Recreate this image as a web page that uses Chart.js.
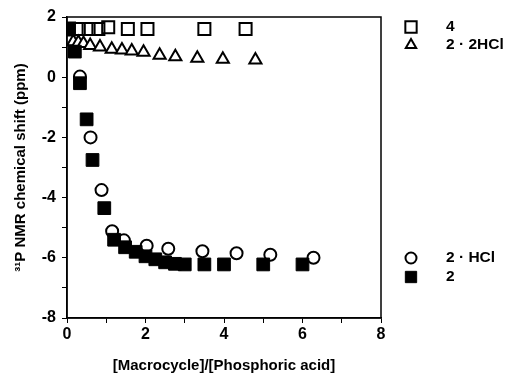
<!DOCTYPE html>
<html><head><meta charset="utf-8">
<script src="https://cdn.jsdelivr.net/npm/chart.js@4/dist/chart.umd.min.js"></script>
<style>html,body{margin:0;padding:0;background:#fff}#wrap{width:519px;height:379px}</style>
</head><body><div id="wrap"><canvas id="c" width="519" height="379"></canvas></div>
<script>
// Series "4" (open squares)
const sq4X = [0.05, 0.3, 0.55, 0.8, 1.05, 1.55, 2.05, 3.5, 4.55];
const sq4Y = [1.62, 1.6, 1.6, 1.6, 1.66, 1.6, 1.6, 1.6, 1.6];
// Series "2 · 2HCl" (open triangles)
const triX = [0.03, 0.16, 0.29, 0.42, 0.59, 0.84, 1.14, 1.40, 1.65, 1.95, 2.36, 2.76, 3.32, 3.97, 4.80];
const triY = [1.5, 1.18, 1.15, 1.12, 1.05, 1.0, 0.93, 0.9, 0.87, 0.83, 0.73, 0.68, 0.63, 0.6, 0.57];
// Series "2 · HCl" (open circles)
const cirX = [0.33, 0.6, 0.88, 1.15, 1.45, 2.03, 2.58, 3.45, 4.32, 5.18, 6.28];
const cirY = [0.02, -2.0, -3.75, -5.12, -5.42, -5.6, -5.7, -5.78, -5.85, -5.9, -6.0];
// Series "2" (filled squares)
const sq2X = [0.03, 0.2, 0.33, 0.5, 0.65, 0.95, 1.2, 1.48, 1.75, 2.0, 2.25, 2.5, 2.75, 3.0, 3.5, 4.0, 5.0, 6.0];
const sq2Y = [1.6, 0.85, -0.2, -1.4, -2.75, -4.35, -5.4, -5.65, -5.8, -5.95, -6.05, -6.15, -6.2, -6.22, -6.22, -6.22, -6.22, -6.22];
// Axis ticks
const xTickLabels = [0, 2, 4, 6, 8];
const yTickLabels = [2, 0, -2, -4, -6, -8];
const seriesNames = ['4', '2 · 2HCl', '2 · HCl', '2'];

const pts = (xs, ys) => xs.map((x, i) => ({x: x, y: ys[i]}));
const FONT = '"Liberation Sans", Arial, sans-serif';

const datasets = [
  {label: seriesNames[3], data: pts(sq2X, sq2Y), pointStyle: 'rect', pointRadius: 9, backgroundColor: '#000', borderColor: '#000', borderWidth: 1},
  {label: seriesNames[2], data: pts(cirX, cirY), pointStyle: 'circle', pointRadius: 6, backgroundColor: '#fff', borderColor: '#000', borderWidth: 2},
  {label: seriesNames[1], data: pts(triX, triY), pointStyle: 'triangle', pointRadius: 7, backgroundColor: '#fff', borderColor: '#000', borderWidth: 2},
  {label: seriesNames[0], data: pts(sq4X, sq4Y), pointStyle: 'rect', pointRadius: 8.5, backgroundColor: 'rgba(255,255,255,0)', borderColor: '#000', borderWidth: 2}
];

const framePlugin = {
  id: 'frame',
  afterDraw(chart) {
    const a = chart.chartArea, ctx = chart.ctx;
    ctx.save();
    ctx.strokeStyle = '#000'; ctx.lineWidth = 1.5;
    ctx.strokeRect(a.left, a.top, a.right - a.left, a.bottom - a.top);
    // legend
    const items = [
      {ds: 3, y: 27}, {ds: 2, y: 45}, {ds: 1, y: 258}, {ds: 0, y: 277}
    ];
    ctx.font = 'bold 15.5px ' + FONT;
    ctx.textBaseline = 'middle';
    ctx.textAlign = 'left';
    items.forEach(it => {
      const d = chart.data.datasets[it.ds];
      ctx.fillStyle = d.backgroundColor; ctx.strokeStyle = d.borderColor;
      ctx.lineWidth = d.borderWidth;
      Chart.helpers.drawPoint(ctx, {pointStyle: d.pointStyle, radius: d.pointStyle === 'triangle' ? 6 : (d.pointStyle === 'rect' ? 8 : 5.5), borderWidth: d.borderWidth}, 411, it.y);
      ctx.fillStyle = '#000';
      ctx.fillText(d.label, 446, it.y);
    });
    ctx.restore();
  }
};

new Chart(document.getElementById('c'), {
  type: 'scatter',
  data: {datasets: datasets},
  options: {
    responsive: false, animation: false,
    layout: {padding: {top: 17, right: 138, left: 0, bottom: 0}},
    plugins: {legend: {display: false}, tooltip: {enabled: false}},
    scales: {
      x: {
        type: 'linear', min: 0, max: 8,
        ticks: {stepSize: 1, color: '#000', font: {family: FONT, size: 16, weight: 'bold'}, padding: 2,
          callback: v => xTickLabels.includes(v) ? String(v) : ''},
        grid: {drawOnChartArea: false, drawTicks: true, tickLength: 5, color: '#000', tickColor: '#000'},
        border: {color: '#000', width: 1.5},
        title: {display: true, text: '[Macrocycle]/[Phosphoric acid]', color: '#000', font: {family: FONT, size: 15, weight: 'bold'}, padding: {top: 10}},
        afterFit: s => { s.height = 61; }
      },
      y: {
        type: 'linear', min: -8, max: 2,
        ticks: {stepSize: 1, color: '#000', font: {family: FONT, size: 16, weight: 'bold'}, padding: 6,
          callback: v => yTickLabels.includes(v) ? String(v) : ''},
        grid: {drawOnChartArea: false, drawTicks: true, tickLength: 5, color: '#000', tickColor: '#000'},
        border: {color: '#000', width: 1.5},
        title: {display: true, text: '³¹P NMR chemical shift (ppm)', color: '#000', font: {family: FONT, size: 15, weight: 'bold'}, padding: {top: 12, bottom: 4}},
        afterFit: s => { s.width = 67; }
      }
    }
  },
  plugins: [framePlugin]
});
</script></body></html>
